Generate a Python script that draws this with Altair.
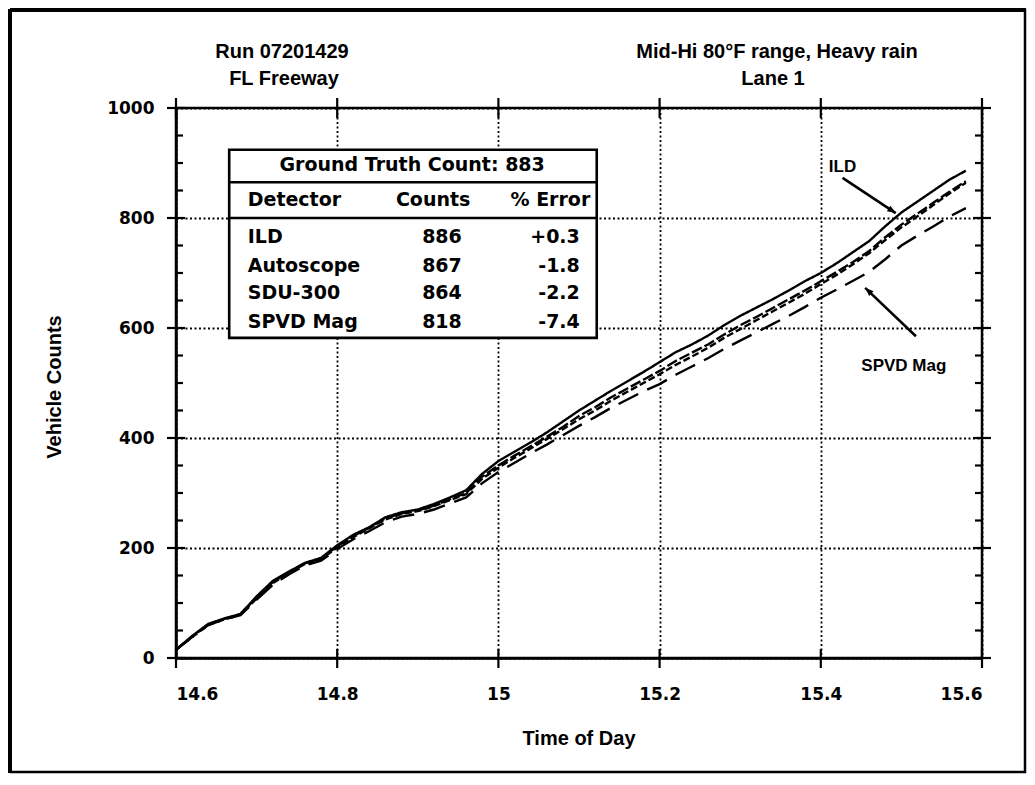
import altair as alt
import pandas as pd

# ---------------- data ----------------
times = [14.60, 14.62, 14.64, 14.66, 14.68, 14.70, 14.72, 14.74, 14.76, 14.78,
         14.80, 14.82, 14.84, 14.86, 14.88, 14.90, 14.92, 14.94, 14.96, 14.98,
         15.00, 15.02, 15.04, 15.06, 15.08, 15.10, 15.12, 15.14, 15.16, 15.18,
         15.20, 15.22, 15.24, 15.26, 15.28, 15.30, 15.32, 15.34, 15.36, 15.38,
         15.40, 15.42, 15.44, 15.46, 15.48, 15.50, 15.52, 15.54, 15.56, 15.58]

ild = [15, 40, 62, 72, 80, 112, 140, 157, 173, 182,
       205, 224, 238, 256, 265, 270, 280, 292, 305, 335,
       358, 375, 392, 410, 430, 450, 468, 486, 503, 520,
       538, 556, 570, 586, 605, 622, 637, 652, 668, 685,
       700, 718, 738, 758, 785, 810, 830, 850, 870, 886]

autoscope = [15, 39, 61, 71, 80, 110, 138, 156, 172, 181,
             203, 222, 237, 254, 263, 268, 277, 289, 300, 330,
             350, 368, 385, 402, 420, 440, 456, 474, 490, 506,
             522, 540, 555, 570, 588, 605, 620, 636, 652, 668,
             685, 702, 720, 740, 765, 788, 808, 828, 848, 867]

sdu300 = [15, 38, 60, 70, 79, 108, 136, 155, 171, 180,
          201, 220, 236, 252, 262, 267, 276, 287, 298, 326,
          346, 364, 381, 398, 416, 434, 450, 468, 484, 500,
          516, 533, 548, 564, 582, 598, 614, 630, 646, 662,
          680, 697, 716, 736, 760, 783, 803, 824, 845, 864]

spvd = [15, 38, 60, 70, 78, 106, 133, 152, 168, 177,
        198, 216, 231, 247, 257, 262, 270, 281, 292, 318,
        338, 355, 372, 388, 405, 422, 438, 455, 470, 485,
        498, 515, 530, 545, 562, 577, 592, 607, 622, 638,
        655, 670, 686, 702, 725, 750, 768, 785, 803, 818]

detectors = ["ILD", "Autoscope", "SDU-300", "SPVD Mag"]
dash_styles = [[1, 0], [11, 3], [7, 3], [22, 10]]

x_ticks = [14.6, 14.8, 15.0, 15.2, 15.4, 15.6]
y_ticks = [0, 200, 400, 600, 800, 1000]
y_minor = [50, 100, 150, 250, 300, 350, 450, 500, 550, 650, 700, 750, 850, 900, 950]

table_title = "Ground Truth Count: 883"
table_header = ["Detector", "Counts", "% Error"]
table_counts = ["886", "867", "864", "818"]
table_errors = ["+0.3", "-1.8", "-2.2", "-7.4"]

# ---------------- layout ----------------
W, H = 806, 550
xs = alt.Scale(domain=[14.6, 15.6], nice=False, zero=False)
ys = alt.Scale(domain=[0, 1000], nice=False, zero=False)
ax_x = alt.Axis(values=x_ticks, format="~g", title=None, ticks=False,
                labelPadding=28, grid=True)
ax_y = alt.Axis(values=y_ticks, format="d", title=None, ticks=False,
                labelPadding=22, grid=True)

rows = []
for name, vals in zip(detectors, [ild, autoscope, sdu300, spvd]):
    for t, v in zip(times, vals):
        rows.append({"time": t, "count": v, "detector": name})
df = pd.DataFrame(rows)

BOLD_WIDE = "DejaVu Sans"
SANS = "Liberation Sans"


def X(field=None, datum=None):
    if datum is not None:
        return alt.X(datum=datum, scale=xs, axis=ax_x)
    return alt.X(field, scale=xs, axis=ax_x)


def Y(field=None, datum=None):
    if datum is not None:
        return alt.Y(datum=datum, scale=ys, axis=ax_y)
    return alt.Y(field, scale=ys, axis=ax_y)


lines = alt.Chart(df).mark_line(color="black", strokeWidth=2.4).encode(
    x=X("time:Q"),
    y=Y("count:Q"),
    strokeDash=alt.StrokeDash("detector:N",
                              scale=alt.Scale(domain=detectors, range=dash_styles),
                              legend=None),
)

one = alt.Data(values=[{}])


def ticks_y(values, x1, x2):
    return alt.Chart(pd.DataFrame({"v": values})).mark_rule(
        color="black", strokeWidth=2.2).encode(
        y=Y("v:Q"), x=alt.value(x1), x2=alt.value(x2))


def ticks_x(values, y1, y2):
    return alt.Chart(pd.DataFrame({"v": values})).mark_rule(
        color="black", strokeWidth=2.2).encode(
        x=X("v:Q"), y=alt.value(y1), y2=alt.value(y2))


tick_layers = [
    ticks_y(y_ticks, -9, 9),
    ticks_y(y_ticks, W - 9, W + 9),
    ticks_y(y_minor, 0, 7),
    ticks_y(y_minor, W - 7, W),
    ticks_x(x_ticks, H - 9, H + 10),
    ticks_x(x_ticks, -10, 10),
]

# table
box = alt.Chart(one).mark_rect(fill="white", stroke="black", strokeWidth=2.6).encode(
    x=X(datum=14.666), x2=alt.datum(15.122),
    y=Y(datum=582), y2=alt.datum(924))


def hline(yv):
    return alt.Chart(one).mark_rule(color="black", strokeWidth=2.4).encode(
        x=X(datum=14.666), x2=alt.datum(15.122), y=Y(datum=yv))


row_y = [765, 713, 664, 611]
left_df = pd.DataFrame({"x": [14.689] * 5, "y": [833] + row_y,
                        "t": [table_header[0]] + detectors})
mid_df = pd.DataFrame({"x": [14.919] + [14.930] * 4, "y": [833] + row_y,
                       "t": [table_header[1]] + table_counts})
right_df = pd.DataFrame({"x": [15.114] + [15.101] * 4, "y": [833] + row_y,
                         "t": [table_header[2]] + table_errors})


def table_text(d, align):
    return alt.Chart(d).mark_text(align=align, baseline="middle", font=BOLD_WIDE,
                                  fontWeight="bold", fontSize=19, color="black").encode(
        x=X("x:Q"), y=Y("y:Q"), text="t:N")


title_txt = alt.Chart(one).mark_text(text=table_title, align="center", baseline="middle",
                                     font=BOLD_WIDE, fontWeight="bold", fontSize=19,
                                     color="black").encode(
    x=X(datum=14.893), y=Y(datum=896))


def px_text(txt, x, y, size=20, angle=0):
    return alt.Chart(one).mark_text(text=txt, align="center", baseline="middle",
                                    font=SANS, fontWeight="bold", fontSize=size,
                                    angle=angle, color="black").encode(
        x=alt.value(x), y=alt.value(y))


texts = [
    px_text("Run 07201429", 106, -56),
    px_text("FL Freeway", 108, -29),
    px_text("Mid-Hi 80°F range, Heavy rain", 601, -56),
    px_text("Lane 1", 597, -29),
    px_text("Time of Day", W / 2, 631),
    px_text("Vehicle Counts", -121, H / 2 + 4, angle=270),
]


def data_text(txt, t, v, size=17):
    return alt.Chart(one).mark_text(text=txt, align="center", baseline="middle",
                                    font=SANS, fontWeight="bold", fontSize=size,
                                    color="black").encode(
        x=X(datum=t), y=Y(datum=v))


def arrow(t1, v1, t2, v2, ang):
    shaft = alt.Chart(one).mark_rule(color="black", strokeWidth=2.6).encode(
        x=X(datum=t1), x2=alt.datum(t2), y=Y(datum=v1), y2=alt.datum(v2))
    head = alt.Chart(one).mark_point(shape="M0,0L-1.7,-0.65L-1.7,0.65Z", size=100,
                                     angle=ang, filled=True, color="black",
                                     opacity=1).encode(
        x=X(datum=t2), y=Y(datum=v2))
    return [shaft, head]


annots = [data_text("ILD", 15.427, 892), data_text("SPVD Mag", 15.503, 531)]
annots += arrow(15.427, 873, 15.493, 809, 33)
annots += arrow(15.518, 585, 15.455, 673, 223)


def frame_rule(sw, **enc):
    return alt.Chart(one).mark_rule(color="black", strokeWidth=sw).encode(
        **{k: alt.value(v) for k, v in enc.items()})


frame = [
    frame_rule(4, x=-166, x2=850, y=-98),
    frame_rule(4, x=-166, y=-99, y2=665),
    frame_rule(2.5, x=849, y=-99, y2=665),
    frame_rule(2.5, x=-166, x2=850, y=664),
]

chart = alt.layer(
    lines, *tick_layers, box, hline(865), hline(800),
    table_text(left_df, "left"), table_text(mid_df, "center"),
    table_text(right_df, "right"), title_txt, *texts, *annots, *frame,
).properties(
    width=W, height=H,
    autosize=alt.AutoSizeParams(type="none"),
    padding={"left": 168, "top": 100, "right": 45, "bottom": 117},
    background="white",
).configure_view(
    stroke="black", strokeWidth=2.5,
).configure_axis(
    domainColor="black", domainWidth=2.5, gridColor="black", gridWidth=1.8,
    gridDash=[2, 2.5], gridOpacity=1, labelColor="black", labelFont=BOLD_WIDE,
    labelFontWeight="bold", labelFontSize=17,
)

chart.save("out.html", embed_options={"renderer": "svg", "actions": False})
